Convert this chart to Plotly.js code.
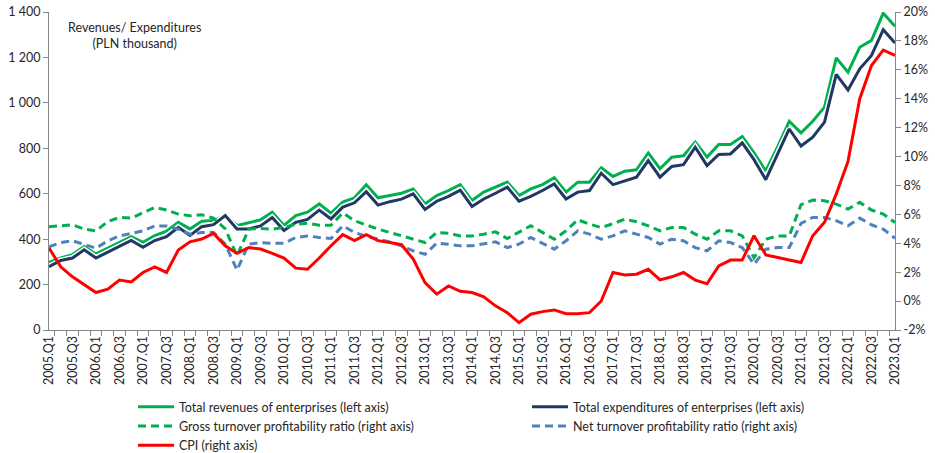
<!DOCTYPE html>
<html>
<head>
<meta charset="utf-8">
<script src="https://cdn.plot.ly/plotly-3.0.1.min.js"></script>
<style>
  html, body { margin: 0; padding: 0; background: #ffffff; }
  #frame { width: 935px; height: 453px; overflow: hidden; position: relative; }
  #chart { width: 935px; height: 470px; }
</style>
</head>
<body>
<div id="frame"><div id="chart"></div></div>
<script>
const categories = [
  "2005.Q1","2005.Q2","2005.Q3","2005.Q4",
  "2006.Q1","2006.Q2","2006.Q3","2006.Q4",
  "2007.Q1","2007.Q2","2007.Q3","2007.Q4",
  "2008.Q1","2008.Q2","2008.Q3","2008.Q4",
  "2009.Q1","2009.Q2","2009.Q3","2009.Q4",
  "2010.Q1","2010.Q2","2010.Q3","2010.Q4",
  "2011.Q1","2011.Q2","2011.Q3","2011.Q4",
  "2012.Q1","2012.Q2","2012.Q3","2012.Q4",
  "2013.Q1","2013.Q2","2013.Q3","2013.Q4",
  "2014.Q1","2014.Q2","2014.Q3","2014.Q4",
  "2015.Q1","2015.Q2","2015.Q3","2015.Q4",
  "2016.Q1","2016.Q2","2016.Q3","2016.Q4",
  "2017.Q1","2017.Q2","2017.Q3","2017.Q4",
  "2018.Q1","2018.Q2","2018.Q3","2018.Q4",
  "2019.Q1","2019.Q2","2019.Q3","2019.Q4",
  "2020.Q1","2020.Q2","2020.Q3","2020.Q4",
  "2021.Q1","2021.Q2","2021.Q3","2021.Q4",
  "2022.Q1","2022.Q2","2022.Q3","2022.Q4",
  "2023.Q1"
];

// Total revenues of enterprises (PLN thousand, left axis)
const revenues = [
  298,317,332,367,335,361,386,411,386,416,435,474,445,479,482,504,460,
  472,485,519,460,504,519,555,514,563,582,640,582,592,602,621,555,
  592,614,640,570,607,629,651,592,621,640,670,607,651,651,714,676,
  699,705,779,710,761,767,827,761,817,817,852,780,700,805,919,
  868,919,981,1198,1135,1245,1275,1395,1337
];

// Total expenditures of enterprises (PLN thousand, left axis)
const expenditures = [
  279,306,317,353,317,342,367,394,364,394,411,452,416,455,464,504,445,
  445,458,495,438,474,487,528,489,541,560,609,550,565,576,599,531,
  567,588,616,544,577,602,629,567,588,614,643,577,607,614,690,640,
  658,673,746,673,720,728,805,724,773,775,824,750,662,773,885,
  810,849,915,1125,1057,1150,1209,1322,1263
];

// Gross turnover profitability ratio (%, right axis)
const grossRatio = [
  5.14,5.2,5.28,4.98,4.86,5.5,5.79,5.74,6.13,6.48,6.3,6.02,5.9,5.97,5.74,5.0,3.13,
  4.98,5.02,4.98,5.09,5.32,5.39,5.25,5.25,6.1,5.56,5.25,4.98,4.75,4.51,4.28,4.05,
  4.75,4.7,4.51,4.51,4.63,4.79,4.33,4.75,5.21,4.75,4.28,4.86,5.63,5.32,5.09,5.35,
  5.67,5.49,5.21,4.86,5.09,5.09,4.63,4.28,4.86,4.86,4.51,3.0,4.28,4.51,4.51,
  6.67,6.99,6.94,6.71,6.37,6.83,6.3,6.02,5.44
];

// Net turnover profitability ratio (%, right axis)
const netRatio = [
  3.75,4.05,4.17,3.94,3.66,4.17,4.51,4.68,4.86,5.2,5.2,4.98,4.63,4.75,4.75,3.94,2.15,
  3.94,4.05,4.0,4.0,4.4,4.51,4.4,4.33,5.21,4.75,4.47,4.28,4.1,3.82,3.47,3.24,
  4.0,3.94,3.82,3.82,3.94,4.1,3.7,3.94,4.4,4.0,3.59,4.17,4.86,4.63,4.28,4.51,
  4.86,4.63,4.4,3.94,4.28,4.17,3.7,3.47,4.17,4.05,3.7,2.55,3.59,3.7,3.7,
  5.37,5.79,5.79,5.56,5.21,5.74,5.28,4.98,4.35
];

// CPI (%, right axis)
const cpi = [
  3.67,2.37,1.68,1.12,0.59,0.82,1.45,1.33,1.98,2.37,1.98,3.53,4.1,4.29,4.68,3.83,3.3,
  3.7,3.6,3.3,2.98,2.28,2.2,2.98,3.83,4.6,4.18,4.6,4.18,4.06,3.9,2.9,1.28,
  0.48,1.05,0.68,0.59,0.29,-0.33,-0.8,-1.49,-0.91,-0.73,-0.61,-0.87,-0.87,-0.8,0.01,1.98,
  1.8,1.86,2.2,1.47,1.68,1.98,1.45,1.2,2.44,2.84,2.84,4.52,3.2,3.0,2.84,
  2.67,4.52,5.45,7.4,9.66,14.0,16.3,17.36,17.0
];

const seriesNames = [
  "Total revenues of enterprises (left axis)",
  "Total expenditures of enterprises (left axis)",
  "Gross turnover profitability ratio (right axis)",
  "Net turnover profitability ratio (right axis)",
  "CPI (right axis)"
];

const leftTickVals = [0,200,400,600,800,1000,1200,1400];
const leftTickText = ["0","200","400","600","800","1 000","1 200","1 400"];
const rightTickVals = [-2,0,2,4,6,8,10,12,14,16,18,20];
const rightTickText = ["-2%","0%","2%","4%","6%","8%","10%","12%","14%","16%","18%","20%"];

const xTickText = categories.map((c, i) => (i % 2 === 0 ? c : ""));

// figure is drawn slightly taller than the 453px view so the legend can sit low
const W = 935, FH = 470;
// plot-area box in pixels (from top-left of the view)
const PL = 49, PR = 895, PT = 12, PB = 330;
const LEGEND_BOTTOM = 460;

const FONT = "Lato, 'Open Sans', sans-serif";
const GREEN = "#00B050";
const NAVY = "#1F3864";
const LIGHTBLUE = "#4F81BD";
const RED = "#FF0000";
const AXIS = "#868686";
const TEXT = "#262626";

const halo = (y) => ({
  x: categories, y: y, type: "scatter", mode: "lines",
  line: { color: "#ffffff", width: 6 }, showlegend: false, hoverinfo: "skip"
});

const traces = [
  halo(revenues),
  { x: categories, y: revenues, name: seriesNames[0], type: "scatter", mode: "lines",
    line: { color: GREEN, width: 3 } },
  halo(expenditures),
  { x: categories, y: expenditures, name: seriesNames[1], type: "scatter", mode: "lines",
    line: { color: NAVY, width: 3 } },
  { x: categories, y: grossRatio, name: seriesNames[2], type: "scatter", mode: "lines",
    yaxis: "y2", line: { color: GREEN, width: 3, dash: "8px,5px" } },
  { x: categories, y: netRatio, name: seriesNames[3], type: "scatter", mode: "lines",
    yaxis: "y2", line: { color: LIGHTBLUE, width: 3, dash: "8px,5px" } },
  { x: categories, y: cpi, name: seriesNames[4], type: "scatter", mode: "lines",
    yaxis: "y2", line: { color: RED, width: 3 } }
];

const layout = {
  width: W, height: FH,
  margin: { l: 0, r: 0, t: 0, b: 0, pad: 0 },
  paper_bgcolor: "#ffffff", plot_bgcolor: "#ffffff",
  font: { family: FONT, size: 12, color: TEXT },
  showlegend: true,
  xaxis: {
    domain: [PL / W, PR / W],
    type: "category",
    tickvals: categories, ticktext: xTickText,
    tickson: "boundaries",
    tickangle: -90,
    ticks: "outside", ticklen: 5, tickcolor: AXIS,
    showline: true, linecolor: AXIS, linewidth: 1,
    showgrid: false, zeroline: false,
    tickfont: { family: FONT, size: 12.5, color: TEXT }
  },
  yaxis: {
    domain: [1 - PB / FH, 1 - PT / FH],
    range: [0, 1400],
    tickvals: leftTickVals, ticktext: leftTickText,
    ticks: "outside", ticklen: 5, tickcolor: AXIS,
    showline: true, linecolor: AXIS, linewidth: 1,
    showgrid: false, zeroline: false,
    tickfont: { family: FONT, size: 12.5, color: TEXT }
  },
  yaxis2: {
    overlaying: "y", side: "right", anchor: "x",
    range: [-2, 20],
    tickvals: rightTickVals, ticktext: rightTickText,
    ticks: "outside", ticklen: 5, tickcolor: AXIS,
    showline: true, linecolor: AXIS, linewidth: 1,
    showgrid: false, zeroline: false,
    tickfont: { family: FONT, size: 12.5, color: TEXT }
  },
  legend: {
    orientation: "h",
    x: 133 / W, xanchor: "left",
    y: 1 - LEGEND_BOTTOM / FH, yanchor: "bottom",
    entrywidth: 343, entrywidthmode: "pixels",
    itemwidth: 36,
    traceorder: "normal",
    font: { family: FONT, size: 12.5, color: TEXT },
    bgcolor: "rgba(0,0,0,0)"
  },
  annotations: [{
    xref: "paper", yref: "paper",
    x: 134 / W, y: 1 - 35 / FH, xanchor: "center", yanchor: "middle",
    text: "Revenues/ Expenditures<br>(PLN thousand)",
    showarrow: false,
    font: { family: FONT, size: 12.5, color: TEXT }
  }]
};

Plotly.newPlot("chart", traces, layout, { displayModeBar: false, staticPlot: true });
</script>
</body>
</html>
